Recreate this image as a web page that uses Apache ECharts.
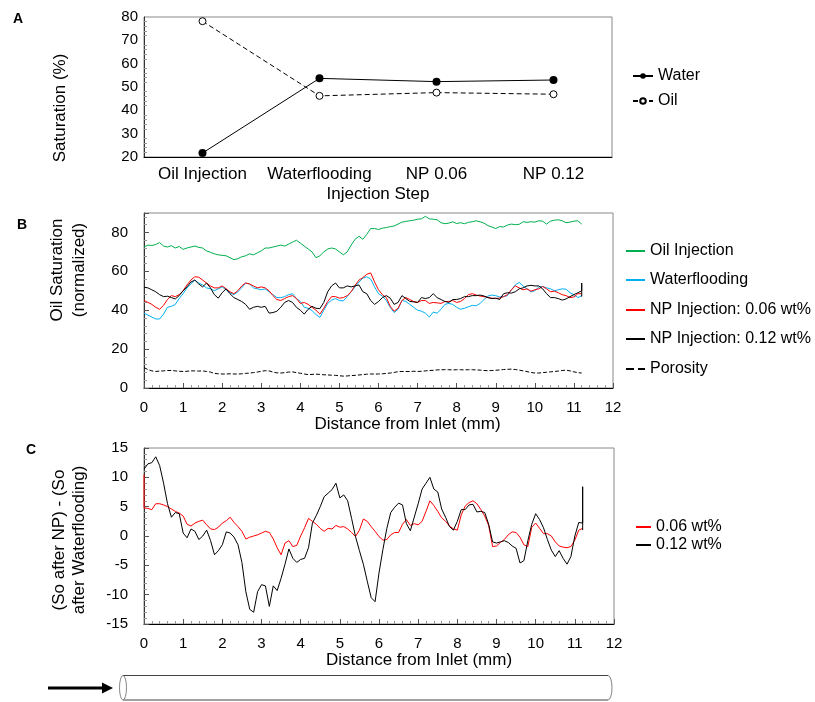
<!DOCTYPE html>
<html lang="en">
<head>
<meta charset="UTF-8">
<title>Saturation profiles</title>
<style>
  html, body { margin: 0; padding: 0; background: #fff; }
  #main { width: 815px; height: 702px; }
</style>
</head>
<body>
<div id="main"></div>
<script src="https://cdn.jsdelivr.net/npm/echarts/dist/echarts.min.js"></script>
<script>
// ---- panel A : saturation per injection step
var steps = ['Oil Injection', 'Waterflooding', 'NP 0.06', 'NP 0.12'];
var waterSat = [21.7, 53.7, 52.3, 53.0];
var oilSat = [78.2, 46.2, 47.6, 46.9];

// ---- panel B / C : profiles along the core, read every 0.1 mm (0 .. 11.2)
var distance = [];
for (var i = 0; i <= 112; i++) distance.push(+(i / 10).toFixed(1));

var oilInjection = [
  72.5, 73.5, 73.3, 73.8, 74.8, 73, 72.5, 73.2, 72, 72.8,
  71.3, 72, 72.5, 73, 72.3, 72, 70.5, 69.8, 69, 68.5,
  68.2, 68, 67, 66, 66.5, 67.5, 68, 69, 68.5, 69.5,
  70.5, 72, 72, 72.5, 73, 73.5, 73, 74, 75, 76,
  74.5, 73, 71.5, 70, 67, 68, 70, 71.5, 72, 71.5,
  70, 68.5, 70, 73.5, 76.5, 78, 76.5, 79, 82, 82,
  81.5, 82.2, 82.5, 83, 83.3, 84.3, 85.3, 85.7, 86, 86.3,
  86.8, 87, 88.3, 87, 86.8, 86.5, 85, 84.5, 84.8, 85.5,
  84.6, 85, 84.5, 85.2, 85.5, 86, 85.5, 84.8, 83.5, 82.8,
  82, 83, 82.8, 83.8, 84.3, 84, 84.2, 85.5, 85.2, 85.5,
  85.3, 86, 85.8, 84.3, 85.8, 86.3, 86.5, 86, 85, 85.3,
  85.8, 86, 84.3
];
var waterflooding = [
  38.5, 37.5, 36.5, 35.5, 35.5, 38, 41.5, 42, 43, 46,
  48.5, 51.5, 53.5, 55.5, 54, 53, 51.5, 51, 50, 51,
  52, 50.5, 49, 48, 49.5, 51.5, 54, 53.5, 51.5, 51,
  50.5, 51, 49.5, 48, 46.5, 46.5, 47, 48, 48.5, 46,
  44.5, 41.5, 41, 39.8, 37.8, 36.3, 40, 43.5, 45.2, 46,
  45, 44.8, 47, 49.5, 52, 54.5, 56.5, 57.2, 56, 52,
  48.5, 47.3, 45, 41.5, 38.8, 40.5, 45, 44.5, 43, 41.5,
  40, 39.5, 38.5, 36.5, 39, 38.5, 40.5, 43, 43.5, 43,
  41.5, 40.5, 41, 41.8, 42.5, 42.3, 43.5, 45.5, 47.3, 47.8,
  47.5, 46.8, 47, 47.5, 50.5, 53, 54.3, 52.5, 51, 49.5,
  50, 52, 52.2, 51.5, 51, 50, 50.5, 51, 50.8, 49,
  48, 46.5, 47.5
];
var np006 = [
  45, 44, 43, 41.5, 40.5, 42.5, 45.5, 47.5, 47, 48,
  50, 53, 55.5, 57.2, 57, 55.5, 54, 52.5, 51.5, 51.5,
  52.5, 51, 49.5, 48.5, 50, 52.5, 54, 53.5, 52.5, 51.5,
  52, 51.5, 50, 47.5, 45.5, 45, 46, 47, 47.5, 46,
  43.5, 44, 43, 41.5, 40, 38, 41, 44.5, 47, 47,
  46.2, 46.5, 47.5, 49.5, 52.8, 55.5, 56.8, 58.5, 59.2, 54.5,
  50.5, 48, 46.5, 42, 39.5, 41, 45, 46.5, 45.5, 44.5,
  44, 45, 45, 43.5, 44, 43.8, 43.5, 44.5, 44.5, 45,
  44, 44.5, 46, 48, 48.5, 47.8, 47.3, 47, 46.5, 46.2,
  46, 46.3, 47, 48, 50.5, 52.5, 51.5, 50.5, 51, 49.8,
  50.5, 51, 52.2, 51, 49.5, 49.8, 49, 48, 47.5, 46.5,
  46.8, 48.5, 48.5
];
var np012 = [
  51.8, 51.5, 50.5, 49.5, 48, 47, 47.2, 46.5, 45.8, 47.5,
  50, 52, 54.5, 55.5, 53.5, 52, 54, 51.5, 48, 46.2,
  49, 51, 48.5, 46.5, 45.5, 44.5, 43, 40.5, 41.5, 42,
  41.5, 42, 38.5, 38.8, 39.5, 41.5, 44, 45, 44, 41.5,
  40, 38, 40.5, 42, 41, 40.8, 44, 49.5, 52.5, 54,
  51.5, 51.5, 52.5, 52, 52.5, 53, 49.5, 48.5, 45, 43,
  44.5, 46.5, 47.5, 46.2, 43, 44, 47.5, 46, 44.5, 44.3,
  44, 46.5, 46, 46.5, 48.5, 46.5, 45.5, 44.5, 44, 45.5,
  45.5, 46, 47, 47, 47.5, 47.5, 47.8, 47.3, 46.5, 46,
  46.2, 45.5, 48.5, 49, 48.8, 49.5, 51, 51.5, 52.5, 52.8,
  52.5, 52.5, 51, 48.5, 46.5, 46.5, 46, 45.2, 45.8, 47,
  48, 49, 50
];
var np012End = [[11.2, 54], [11.2, 47]];
var porosity = [
  10.5, 9.5, 8.8, 8.5, 8.7, 8.8, 9, 9, 8.8, 8.6,
  8.5, 8.6, 8.8, 8.8, 8.7, 8.8, 8.5, 8.2, 7.5, 7.3,
  7.2, 7.2, 7.3, 7.2, 7.2, 7.3, 7.5, 7.7, 7.9, 8.2,
  8.6, 8.9, 8.8, 8.2, 7.8, 7.7, 7.9, 8.2, 8.3, 7.9,
  7.6, 7.2, 6.9, 7.0, 7.1, 7.0, 6.8, 6.7, 6.6, 6.5,
  6.3, 6.1, 6.2, 6.4, 6.5, 6.7, 6.9, 7.1, 7.2, 7.2,
  7.2, 7.3, 7.5, 7.7, 8.0, 8.4, 8.5, 8.5, 8.5, 8.6,
  8.5, 8.6, 8.8, 9.0, 9.1, 9.3, 9.4, 9.4, 9.4, 9.3,
  9.4, 9.4, 9.3, 9.4, 9.4, 9.3, 9.2, 9.0, 8.9, 9.0,
  9.1, 9.3, 9.5, 9.6, 9.7, 9.5, 9.2, 8.8, 8.4, 8.0,
  7.7, 7.7, 7.9, 8.1, 8.3, 8.5, 8.7, 9.0, 9.2, 8.8,
  8.3, 7.9, 7.7
];

// (So after NP) - (So after waterflooding)
var diff006Start = [[0, 10.5]];
var diff006 = [
  4.8, 4.7, 4.5, 5.5, 5.5, 5.3, 5.0, 4.6, 4.2, 3.9,
  3.4, 2.0, 1.7, 2.2, 2.5, 2.7, 1.9, 1.2, 1.1, 1.5,
  2.2, 2.6, 3.2, 2.3, 1.6, 0.8, -0.5, -0.2, 0.0, 0.2,
  0.5, 0.8, 0.6, -0.5, -2.0, -3.2, -1.2, -0.8, -1.8, -1.6,
  0.0, 1.4, 3.0, 2.5, 2.0, 1.3, 0.8, 1.3, 1.2, 1.8,
  1.5, 1.6, 1.2, 0.6, -0.1, 1.0, 2.9, 2.5, 1.6, 0.8,
  -0.1, -0.7, -0.6, 0.2, 0.6, 0.6, 2.0, 2.8, 1.8, 2.1,
  1.9, 2.5, 4.2, 6.0, 5.2, 4.2, 3.1, 2.5, 1.7, 1.2,
  1.0, 3.6, 5.1, 5.7, 6.0, 5.5, 4.5, 3.4, 1.8, -1.8,
  -1.7, -1.1, -0.6, 0.2, 0.7, 0.6, -0.2, -1.5, -1.8, 1.5,
  2.2, 1.3, 0.4, 0.4, 0.0, -1.0, -1.7, -1.9, -2.0, -1.8,
  -0.7, 1.0, 1.3
];
var diff012 = [
  11.4, 12.3, 12.5, 13.5, 12, 9, 5.5, 3.2, 4, 3.8,
  0.5, -0.3, 1.2, 0.8, -0.6, 0, 1.0, -0.8, -3.2, -2.5,
  -1.5, 0.7, 0.5, -0.2, -1.5, -4.5, -9.5, -12.5, -13, -9.5,
  -8.3, -8.5, -12, -8.5, -9.3, -7.2, -4.8, -2.2, -3.8, -4.5,
  -4, -3.8, -2, 2.2, 3.5, 5, 6.7, 7.3, 7.9, 9,
  6.5, 7, 6, 3, -0.1, -2.5, -4.8, -7.7, -10.5, -11.2,
  -6.3, -2.3, 1.3, 4, 4.9, 5.6, 5.3, 2.1, 0.9, 3.2,
  5.5, 8, 9, 10, 8, 7.5, 4.6, 3.2, 1.6, 1,
  2.5, 4.5, 4.5, 5.3, 5.4, 4.1, 4.2, 4.0, 2, -1,
  -1.2, -1.0, -0.8, -1.1, -1.7, -2.1, -4.6, -4.2, -0.8, 2,
  3.8, 2.8, 1.4, -0.6, -2.4, -3.5, -2.5, -3.8, -4.8, -3.5,
  0, 2.3, 2.2
];
var diff012End = [[11.2, 8.4], [11.2, 1.0]];

var FONT = '"Liberation Sans", Arial, sans-serif';

function pairs(xs, ys) {
  return xs.map(function (x, k) { return [x, ys[k]]; });
}

function valueX(idx, name, namePad) {
  return {
    type: 'value', gridIndex: idx, min: 0, max: 12, interval: 1,
    name: name, nameLocation: 'middle', nameGap: 28,
    nameTextStyle: { fontSize: 17, color: '#000', fontFamily: FONT, padding: [0, 0, 0, namePad] },
    axisLine: { onZero: false, lineStyle: { color: '#000', width: 1 } },
    axisTick: { inside: true, length: 5, lineStyle: { color: '#555' } },
    minorTick: { show: true, splitNumber: 5, length: 3, lineStyle: { color: '#999' } },
    axisLabel: { fontSize: 15, color: '#000', margin: 12, fontFamily: FONT },
    splitLine: { show: false }
  };
}

function valueY(idx, min, max, interval, name, gap, pad, lh, labelMargin) {
  return {
    type: 'value', gridIndex: idx, min: min, max: max, interval: interval,
    name: name, nameLocation: 'middle', nameGap: gap,
    nameTextStyle: { fontSize: 17, color: '#000', fontFamily: FONT, padding: pad, lineHeight: lh },
    axisLine: { show: true, onZero: false, lineStyle: { color: '#333', width: 1 } },
    axisTick: { inside: true, length: 5, lineStyle: { color: '#555' } },
    minorTick: { show: true, splitNumber: 5, length: 3, lineStyle: { color: '#999' } },
    axisLabel: { fontSize: 15, color: '#000', margin: labelMargin, fontFamily: FONT, showMaxLabel: max !== 90 },
    splitLine: { show: false }
  };
}

// one legend per entry so each row sits where the reference has it
function legendAt(name, left, top, w, plainLine) {
  var lg = {
    data: [name], left: left, top: top, orient: 'vertical',
    itemWidth: w, itemHeight: 7, padding: 0,
    textStyle: { fontSize: 16, color: '#000', fontFamily: FONT },
    selectedMode: false
  };
  if (plainLine) lg.itemStyle = { opacity: 0 };
  return lg;
}

function profile(name, xi, data, color, dashed) {
  return {
    name: name, type: 'line', xAxisIndex: xi, yAxisIndex: xi,
    data: data, showSymbol: false, symbol: 'none',
    lineStyle: { color: color, width: 1, type: dashed ? 'dashed' : 'solid' },
    itemStyle: { color: color },
    z: 3
  };
}

var chart = echarts.init(document.getElementById('main'));

var option = {
  animation: false,
  backgroundColor: '#fff',
  textStyle: { fontFamily: FONT },
  grid: [
    { left: 144, top: 17, width: 468, height: 140, show: true, borderColor: '#888', borderWidth: 1 },
    { left: 144, top: 213, width: 469, height: 175, show: true, borderColor: '#888', borderWidth: 1 },
    { left: 144, top: 448, width: 470, height: 176, show: true, borderColor: '#888', borderWidth: 1 }
  ],
  xAxis: [
    {
      type: 'category', gridIndex: 0, data: steps, boundaryGap: true,
      name: 'Injection Step', nameLocation: 'middle', nameGap: 29,
      nameTextStyle: { fontSize: 17, color: '#000', fontFamily: FONT },
      axisLine: { lineStyle: { color: '#000', width: 1 } },
      axisTick: { alignWithLabel: true, length: 5, lineStyle: { color: '#555' } },
      axisLabel: { fontSize: 17, color: '#000', margin: 9, fontFamily: FONT, interval: 0 },
      splitLine: { show: false }
    },
    valueX(1, 'Distance from Inlet (mm)', 58),
    valueX(2, 'Distance from Inlet (mm)', 80)
  ],
  yAxis: [
    valueY(0, 20, 80, 10, 'Saturation (%)', 74, [0, 42, 0, 0], 20, 6),
    valueY(1, 0, 90, 20, 'Oil Saturation\n(normalized)', 54, [0, 0, 0, 61], 22, 16),
    valueY(2, -15, 15, 5, '(So after NP) - (So\nafter Waterflooding)', 55, [0, 8, 0, 0], 20, 16)
  ],
  legend: [
    legendAt('Water', 632, 68, 20),
    legendAt('Oil', 632, 93, 20),
    legendAt('Oil Injection', 625, 243, 19, true),
    legendAt('Waterflooding', 625, 272, 19, true),
    legendAt('NP Injection: 0.06 wt%', 625, 302, 19, true),
    legendAt('NP Injection: 0.12 wt%', 625, 331, 19, true),
    legendAt('Porosity', 625, 361, 19, true),
    legendAt('0.06 wt%', 635, 519, 15, true),
    legendAt('0.12 wt%', 635, 537, 15, true)
  ],
  series: [
    {
      name: 'Water', type: 'line', xAxisIndex: 0, yAxisIndex: 0, data: waterSat,
      symbol: 'circle', symbolSize: 8,
      lineStyle: { color: '#000', width: 1 },
      itemStyle: { color: '#000' }
    },
    {
      name: 'Oil', type: 'line', xAxisIndex: 0, yAxisIndex: 0, data: oilSat,
      symbol: 'circle', symbolSize: 7,
      lineStyle: { color: '#000', width: 1, type: [5, 3] },
      itemStyle: { color: '#fff', borderColor: '#000', borderWidth: 1 }
    },
    profile('Oil Injection', 1, pairs(distance, oilInjection), '#00b050'),
    profile('Waterflooding', 1, pairs(distance, waterflooding), '#00b0f0'),
    profile('NP Injection: 0.06 wt%', 1, pairs(distance, np006), '#ff0000'),
    profile('NP Injection: 0.12 wt%', 1, pairs(distance, np012).concat(np012End), '#000000'),
    profile('Porosity', 1, pairs(distance, porosity), '#000000', true),
    profile('0.06 wt%', 2, diff006Start.concat(pairs(distance, diff006)), '#ff0000'),
    profile('0.12 wt%', 2, pairs(distance, diff012).concat(diff012End), '#000000')
  ],
  graphic: [
    { type: 'text', left: 13, top: 12, style: { text: 'A', font: 'bold 14px ' + FONT, fill: '#000' } },
    { type: 'text', left: 17, top: 218, style: { text: 'B', font: 'bold 14px ' + FONT, fill: '#000' } },
    { type: 'text', left: 26, top: 443, style: { text: 'C', font: 'bold 14px ' + FONT, fill: '#000' } },
    // core sample sketch
    { type: 'line', silent: true, shape: { x1: 123, y1: 675.5, x2: 608, y2: 675.5 }, style: { stroke: '#444', lineWidth: 1 } },
    { type: 'line', silent: true, shape: { x1: 123, y1: 700, x2: 608, y2: 700 }, style: { stroke: '#444', lineWidth: 1 } },
    {
      type: 'arc', silent: true, x: 608, y: 687.75, scaleX: 4 / 12.25,
      shape: { cx: 0, cy: 0, r: 12.25, startAngle: -Math.PI / 2, endAngle: Math.PI / 2 },
      style: { stroke: '#444', lineWidth: 1, fill: null, strokeNoScale: true }
    },
    {
      type: 'circle', silent: true, x: 123, y: 687.75, scaleX: 3.5 / 12.25,
      shape: { cx: 0, cy: 0, r: 12.25 },
      style: { stroke: '#444', lineWidth: 1, fill: '#fff', strokeNoScale: true }
    },
    { type: 'line', silent: true, shape: { x1: 48, y1: 688, x2: 104, y2: 688 }, style: { stroke: '#000', lineWidth: 3 } },
    {
      type: 'polygon', silent: true,
      shape: { points: [[102, 682.5], [113, 688], [102, 693.5]] },
      style: { fill: '#000' }
    }
  ]
};

chart.setOption(option);
</script>
</body>
</html>
